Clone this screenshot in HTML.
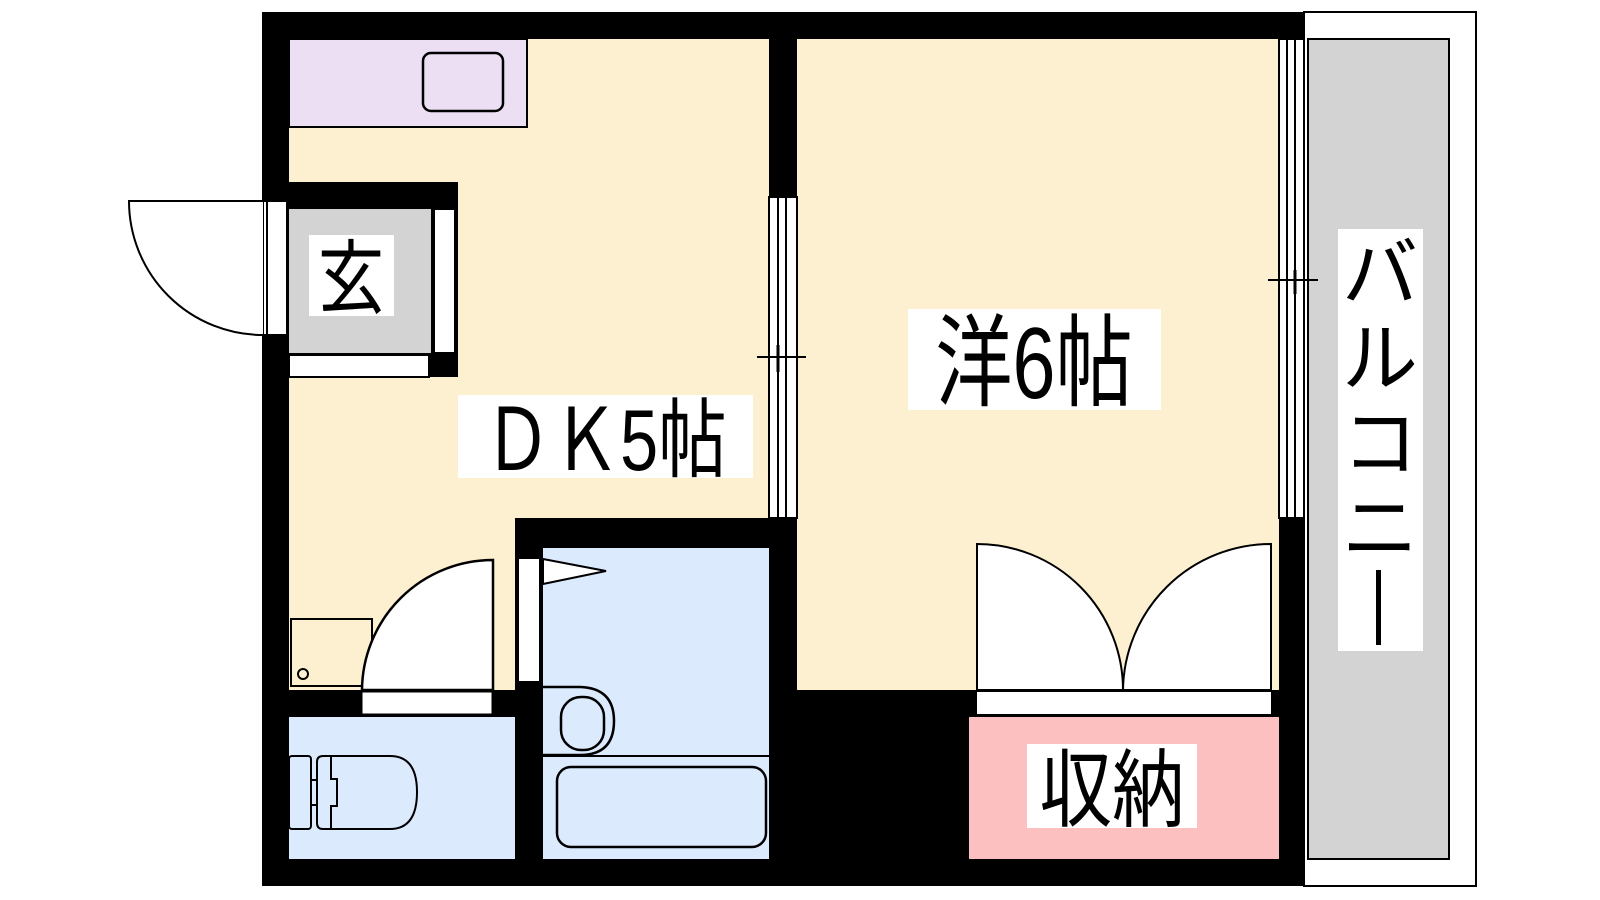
<!DOCTYPE html>
<html><head><meta charset="utf-8"><style>
html,body{margin:0;padding:0;background:#fff;}
svg{display:block}
text{font-family:"Liberation Sans","Noto Sans CJK JP",sans-serif;}
</style></head><body>
<svg width="1600" height="900" viewBox="0 0 1600 900" xmlns="http://www.w3.org/2000/svg">
<rect width="1600" height="900" fill="#fff"/>
<rect x="1304" y="12" width="172" height="874" fill="#fff" stroke="#000" stroke-width="2"/>
<rect x="1308" y="39" width="141" height="820" fill="#d3d3d3" stroke="#000" stroke-width="2"/>
<rect x="262" y="12" width="1042" height="874" fill="#000"/>
<rect x="289" y="39" width="480" height="651" fill="#fdf0d0"/>
<rect x="797" y="39" width="482" height="651" fill="#fdf0d0"/>
<rect x="289" y="39" width="238" height="88" fill="#ecdff4" stroke="#000" stroke-width="2"/>
<rect x="423" y="53" width="80" height="58" rx="8" fill="none" stroke="#000" stroke-width="2.5"/>
<rect x="262" y="182" width="196" height="195" fill="#000"/>
<rect x="289" y="209" width="142" height="144" fill="#d3d3d3"/>
<rect x="434" y="209" width="21" height="144" fill="#fff" stroke="#000" stroke-width="2"/>
<rect x="289" y="355" width="140" height="22" fill="#fff" stroke="#000" stroke-width="2"/>
<rect x="263" y="201" width="24" height="134" fill="#fff" stroke="#000" stroke-width="2"/>
<line x1="267" y1="201" x2="267" y2="335" stroke="#000" stroke-width="2"/>
<path d="M263 201 L129 201 A134 134 0 0 0 263 335" fill="#fff" stroke="#000" stroke-width="2"/>
<rect x="309" y="235" width="85" height="81" fill="#fff"/>
<text transform="translate(351,307) scale(0.95,1.15)" font-size="70" text-anchor="middle">玄</text>
<rect x="769" y="197" width="28" height="321" fill="#fff" stroke="#000" stroke-width="2"/>
<line x1="778" y1="197" x2="778" y2="518" stroke="#000" stroke-width="2"/>
<line x1="786" y1="197" x2="786" y2="518" stroke="#000" stroke-width="2"/>
<line x1="757" y1="357" x2="806" y2="357" stroke="#000" stroke-width="2"/>
<line x1="778" y1="345" x2="778" y2="372" stroke="#000" stroke-width="3"/>
<rect x="1279" y="39" width="25" height="479" fill="#fff" stroke="#000" stroke-width="2"/>
<line x1="1287" y1="39" x2="1287" y2="518" stroke="#000" stroke-width="2"/>
<line x1="1295" y1="39" x2="1295" y2="518" stroke="#000" stroke-width="2"/>
<line x1="1268" y1="280" x2="1318" y2="280" stroke="#000" stroke-width="2"/>
<line x1="1295" y1="270" x2="1295" y2="294" stroke="#000" stroke-width="3"/>
<rect x="515" y="518" width="282" height="368" fill="#000"/>
<rect x="543" y="548" width="226" height="311" fill="#dbeafd"/>
<rect x="518" y="558" width="22" height="124" fill="#fff" stroke="#000" stroke-width="2"/>
<polygon points="543,559 606,571 543,584" fill="#fff" stroke="#000" stroke-width="2"/>
<line x1="543" y1="756" x2="769" y2="756" stroke="#000" stroke-width="2"/>
<rect x="557" y="767" width="209" height="80" rx="14" fill="none" stroke="#000" stroke-width="2.5"/>
<path d="M543 687 L580 687 Q614 688 614 721 Q614 755 580 755 L543 755" fill="none" stroke="#000" stroke-width="2.5"/>
<rect x="561" y="697" width="43" height="53" rx="20" fill="none" stroke="#000" stroke-width="2.5"/>
<rect x="289" y="717" width="226" height="142" fill="#dbeafd"/>
<rect x="289" y="756" width="22" height="73" rx="3" fill="none" stroke="#000" stroke-width="2"/>
<rect x="311" y="780" width="6" height="25" fill="none" stroke="#000" stroke-width="2"/>
<path d="M323 756 L390 756 Q417 756 417 792 Q417 829 390 829 L323 829 Q317 829 317 823 L317 762 Q317 756 323 756 Z" fill="none" stroke="#000" stroke-width="2"/>
<path d="M331 756 L331 779 L337 779 L337 806 L331 806 L331 829" fill="none" stroke="#000" stroke-width="2"/>
<rect x="291" y="619" width="81" height="67" fill="#fdf0d0" stroke="#000" stroke-width="2"/>
<circle cx="303" cy="674" r="5" fill="none" stroke="#000" stroke-width="2"/>
<path d="M493 560 L493 690 L362 690 A131 131 0 0 1 493 560 Z" fill="#fff" stroke="#000" stroke-width="2.5"/>
<rect x="362" y="692" width="130" height="22" fill="#fff" stroke="#000" stroke-width="1"/>
<rect x="969" y="717" width="310" height="142" fill="#fdc0c0"/>
<rect x="977" y="692" width="294" height="22" fill="#fff"/>
<path d="M977 690 L977 544 A146 146 0 0 1 1123 690 Z" fill="#fff" stroke="#000" stroke-width="2"/>
<path d="M1271 690 L1271 544 A148 148 0 0 0 1123 690 Z" fill="#fff" stroke="#000" stroke-width="2"/>
<rect x="458" y="395" width="295" height="83" fill="#fff"/>
<text transform="translate(605,470) scale(0.95,1.2)" font-size="72" text-anchor="middle">ＤＫ5帖</text>
<rect x="908" y="309" width="253" height="101" fill="#fff"/>
<text transform="translate(1034,398) scale(0.92,1.2)" font-size="84" text-anchor="middle">洋6帖</text>
<rect x="1027" y="744" width="170" height="84" fill="#fff"/>
<text transform="translate(1112,820) scale(0.98,1.15)" font-size="74" text-anchor="middle">収納</text>
<rect x="1338" y="229" width="85" height="422" fill="#fff"/>
<text x="1380" y="300" font-size="76" text-anchor="middle">バ</text>
<text x="1380" y="385" font-size="76" text-anchor="middle">ル</text>
<text x="1380" y="470" font-size="76" text-anchor="middle">コ</text>
<text x="1380" y="555" font-size="76" text-anchor="middle">ニ</text>
<rect x="1376" y="570" width="5" height="75" fill="#000"/>
</svg>
</body></html>
